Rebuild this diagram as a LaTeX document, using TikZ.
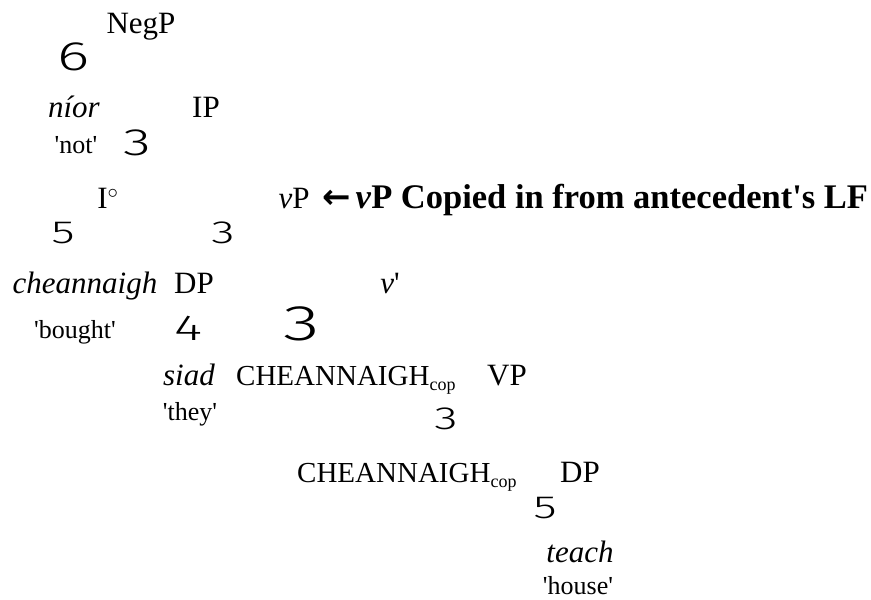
\documentclass[tikz,border=0pt]{standalone}
\usepackage{graphicx}
\usepackage{fontspec}
\setmainfont{Liberation Serif}
\newfontfamily\branchfont{Fira Sans Light}
\newfontfamily\arrowfont{DejaVu Sans}
\newcommand{\sq}{\textquotesingle}
\newcommand{\cop}{\raisebox{-5pt}{\fontsize{18}{18}\selectfont cop}}

\begin{document}
\begin{tikzpicture}[x=1pt,y=-1pt]

\def\big{\fontsize{31}{33}\selectfont}

\tikzset{
    every node/.style={font=\big, inner sep=0pt, anchor=base},
    gloss/.style={font=\fontsize{26}{28}\selectfont},
    caps/.style={font=\fontsize{29}{31}\selectfont, anchor=base west},
    branch/.style={font=\branchfont\fontsize{#1}{#1}\selectfont},
    branch/.default=32
}
\newcommand{\wide}[1]{\scalebox{1.5}[1]{#1}}

\useasboundingbox (0,0) rectangle (871,600);

% NegP
\node (NegP) at (141,33) {NegP};
\node[branch=41] (b negp) at (74,70) {\wide{6}};
\node (nior) at (74,117) {\textit{níor}};
\node[gloss] (nior gloss) at (76,153) {\sq not\sq};
\node[branch=38] (b ip) at (137,155) {\wide{3}};
\node (IP) at (206,117) {IP};

% IP
\node (I) at (108,208) {I$^\circ$};
\node (vP) at (294,208) {\textit{v}P};
\node[anchor=base west] (note) at (322,208) {\arrowfont\bfseries\fontsize{34}{36}\selectfont ←\hspace{5pt}\rmfamily\fontsize{34.5}{36}\selectfont\textbf{\textit{v}P Copied in from antecedent\sq s LF}};
\node[branch] (b i) at (63,243) {\wide{5}};
\node[branch] (b vp) at (223,243) {\wide{3}};

% head and spec
\node (cheannaigh) at (85,293) {\textit{cheannaigh}};
\node[gloss] (cheannaigh gloss) at (75,338) {\sq bought\sq};
\node (DP1) at (194,293) {DP};
\node (v bar) at (390,293) {\textit{v}\sq};
\node[branch=36] (b dp1) at (188,340) {\wide{4}};
\node[branch=50] (b vbar) at (302,340) {\wide{3}};

% v' daughters
\node (siad) at (189,385) {\textit{siad}};
\node[gloss] (siad gloss) at (190,420) {\sq they\sq};
\node[caps] (v head) at (236,385) {CHEANNAIGH\cop};
\node (VP) at (507,385) {VP};
\node[branch] (b vp2) at (446,429) {\wide{3}};

% VP daughters
\node[caps] (V head) at (297,482) {CHEANNAIGH\cop};
\node (DP2) at (580,482) {DP};
\node[branch] (b dp2) at (545,518) {\wide{5}};
\node (teach) at (580,562) {\textit{teach}};
\node[gloss] (teach gloss) at (578,594) {\sq house\sq};

\end{tikzpicture}
\end{document}
